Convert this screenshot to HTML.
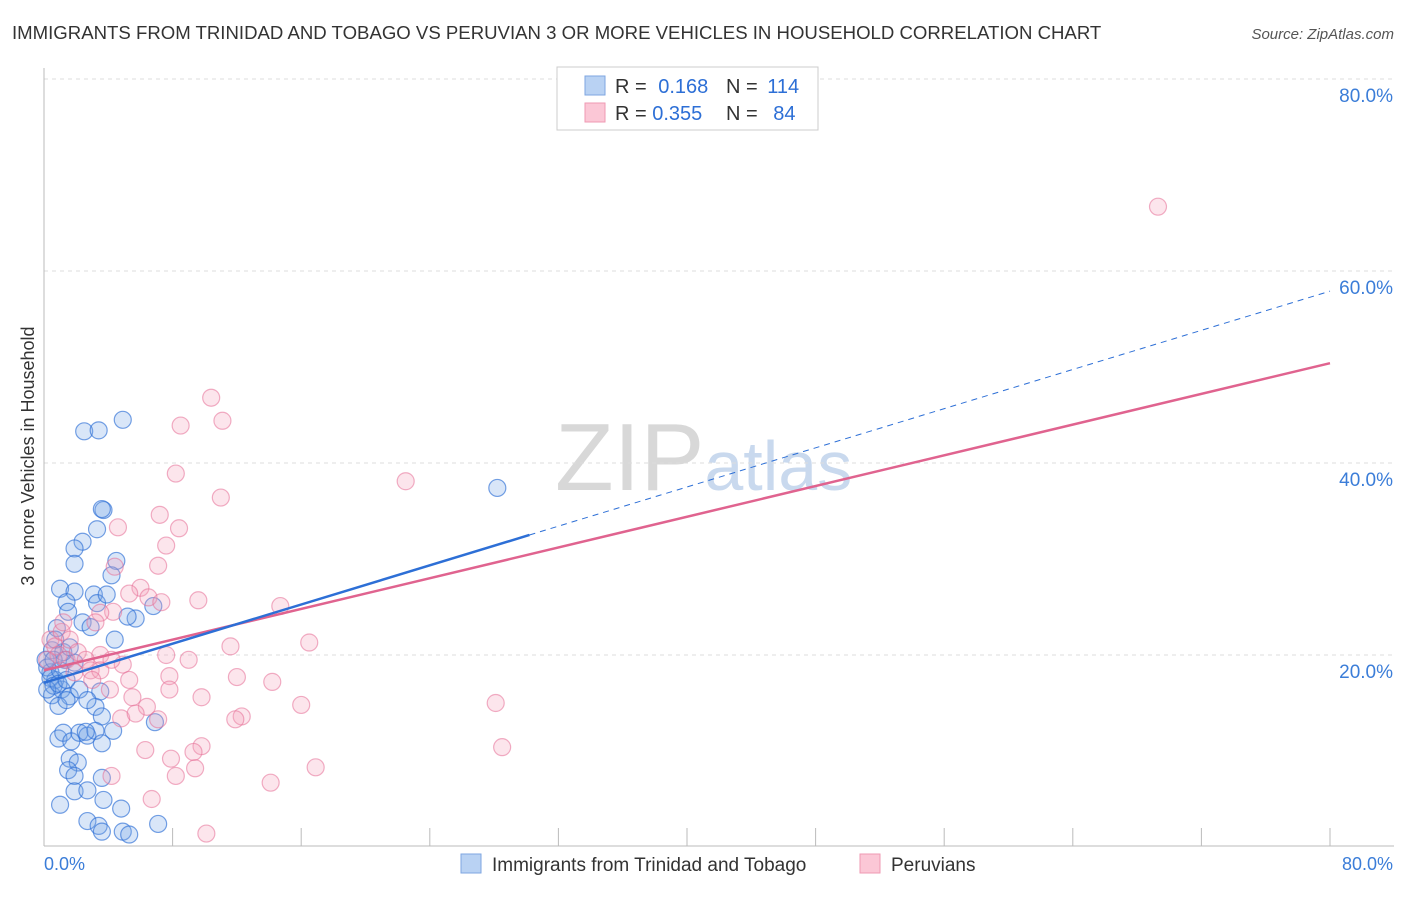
<!DOCTYPE html>
<html><head><meta charset="utf-8"><style>
body{margin:0;background:#fff;font-family:"Liberation Sans",sans-serif;}
svg text{font-family:"Liberation Sans",sans-serif;}
</style></head><body>
<svg id="chart" width="1406" height="892" xmlns="http://www.w3.org/2000/svg">
<text x="12" y="39" font-size="18.6" fill="#333">IMMIGRANTS FROM TRINIDAD AND TOBAGO VS PERUVIAN 3 OR MORE VEHICLES IN HOUSEHOLD CORRELATION CHART</text>
<text x="1394" y="39" font-size="15" fill="#555" font-style="italic" text-anchor="end">Source: ZipAtlas.com</text>
<text x="555" y="490" font-size="96" fill="#d8d8d8" font-family="Liberation Serif">ZIP<tspan fill="#c9d9ee" font-family="Liberation Sans" font-size="70">atlas</tspan></text>
<text transform="translate(34,456) rotate(-90)" font-size="18" fill="#333" text-anchor="middle">3 or more Vehicles in Household</text>
<g id="grid"></g><g id="pts"></g><g id="lines"></g>
<g>
<rect x="557" y="67" width="261" height="63" fill="#fff" stroke="#ccc"/>
<rect x="585" y="76" width="20" height="19" fill="#b9d2f3" stroke="#7ea6e0"/>
<rect x="585" y="103" width="20" height="19" fill="#fbc7d6" stroke="#ef9ab3"/>
<text x="615" y="93" font-size="20" fill="#333">R =  <tspan fill="#2d6fd6" dx="6">0.168</tspan></text>
<text x="726" y="93" font-size="20" fill="#333">N = <tspan fill="#2d6fd6" dx="4">114</tspan></text>
<text x="615" y="120" font-size="20" fill="#333">R = <tspan fill="#2d6fd6">0.355</tspan></text>
<text x="726" y="120" font-size="20" fill="#333">N = <tspan fill="#2d6fd6" dx="10">84</tspan></text>
</g>
<g>
<rect x="461" y="854" width="20" height="19" fill="#b9d2f3" stroke="#7ea6e0"/>
<text x="492" y="871" font-size="19" fill="#333">Immigrants from Trinidad and Tobago</text>
<rect x="860" y="854" width="20" height="19" fill="#fbc7d6" stroke="#ef9ab3"/>
<text x="891" y="871" font-size="19" fill="#333">Peruvians</text>
</g>
<text x="44" y="870" font-size="18" fill="#3b7dd8">0.0%</text>
<text x="1393" y="870" font-size="18" fill="#3b7dd8" text-anchor="end">80.0%</text>
</svg>
<script>
const yTicks=[20,40,60,80];
const yTickLabels=["20.0%","40.0%","60.0%","80.0%"];
const xTicks=[0,8,16,24,32,40,48,56,64,72,80];
const blueX=[4.9,2.5,3.4,28.2,3.7,3.6,3.3,2.4,1.9,1.9,4.5,4.2,1.0,1.9,3.1,1.4,1.5,3.3,3.9,6.8,2.4,2.9,5.7,5.2,4.4,0.8,0.5,1.3,1.9,0.4,0.7,1.1,1.6,2.2,3.5,0.5,0.9,1.4,3.2,3.6,2.7,6.9,0.9,1.2,1.7,2.2,2.7,3.2,2.6,3.6,4.3,1.6,2.1,1.5,1.9,3.6,1.9,2.7,1.0,3.7,4.8,2.7,3.4,3.6,4.9,5.3,7.1,0.1,0.2,0.4,0.6,0.2,1.0,1.2,0.7,1.6,0.6,0.9,1.4];
const blueY=[44.5,43.3,43.4,37.4,35.1,35.2,33.1,31.8,31.1,29.5,29.8,28.3,26.9,26.6,26.3,25.5,24.5,25.4,26.3,25.1,23.4,22.9,23.8,24.0,21.6,22.8,20.5,19.5,19.2,18.2,17.4,16.4,15.7,16.4,16.2,15.8,14.7,15.3,14.6,13.6,15.3,13.0,11.3,11.9,11.0,11.9,11.6,12.1,12.0,10.8,12.1,9.2,8.8,8.0,7.4,7.2,5.8,5.9,4.4,4.9,4.0,2.7,2.2,1.6,1.6,1.3,2.4,19.5,18.7,17.6,16.8,16.4,18.4,20.3,21.6,20.8,19.5,17.0,17.4];
const pinkX=[69.3,10.4,8.5,11.1,22.5,8.2,11.0,7.2,4.6,8.4,7.6,7.1,4.4,6.0,5.3,6.5,7.3,9.6,14.7,4.3,3.5,3.2,11.6,16.5,9.0,7.6,3.5,4.9,12.0,14.2,7.8,5.3,7.8,5.5,9.8,16.0,28.1,6.4,7.1,12.3,11.9,4.8,5.7,28.5,9.8,9.3,6.3,7.9,9.4,16.9,8.2,4.2,14.1,6.7,10.1,0.4,0.7,1.1,1.6,0.9,1.4,2.1,2.6,2.9,1.9,3.5,4.2,0.2,1.2,3.0,4.1];
const pinkY=[66.7,46.8,43.9,44.4,38.1,38.9,36.4,34.6,33.3,33.2,31.4,29.3,29.2,27.0,26.4,26.0,25.5,25.7,25.1,24.5,24.4,23.4,20.9,21.3,19.5,20.0,20.0,19.0,17.7,17.2,17.8,17.4,16.4,15.6,15.6,14.8,15.0,14.6,13.3,13.6,13.3,13.4,13.9,10.4,10.5,9.9,10.1,9.2,8.2,8.3,7.4,7.4,6.7,5.0,1.4,21.6,20.9,22.4,21.6,20.0,19.5,20.3,19.5,18.4,18.2,18.4,19.5,19.5,23.4,17.4,16.4];
const blueTrend=[17.1,57.9], blueSolidEnd=30.2;
const pinkTrend=[18.4,50.4];
const NS="http://www.w3.org/2000/svg";
const sx=v=>44+v/80*1286, sy=v=>847-v/20*192;
function mk(tag,attrs,parent){const e=document.createElementNS(NS,tag);for(const k in attrs)e.setAttribute(k,attrs[k]);parent.appendChild(e);return e;}
const grid=document.getElementById('grid');
yTicks.forEach((t,i)=>{
 const l=mk('line',{x1:44,x2:1394,y1:sy(t),y2:sy(t),stroke:'#ddd','stroke-dasharray':'4,4'},grid);
 
 
 const tx=mk('text',{x:1393,y:sy(t)+23,'font-size':19,fill:'#3b7dd8','text-anchor':'end'},grid);
 tx.textContent=yTickLabels[i];
 
 
});
const ax=mk('line',{x1:44,x2:44,y1:68,y2:846,stroke:'#bbb'},grid);


const bx=mk('line',{x1:44,x2:1394,y1:846,y2:846,stroke:'#bbb'},grid);


xTicks.forEach(t=>{
 const l=mk('line',{x1:sx(t),x2:sx(t),y1:828,y2:846,stroke:'#bbb'},grid);
 
 
});
const pts=document.getElementById('pts');
blueX.forEach((x,i)=>{
 const c=mk('circle',{cx:sx(x),cy:sy(blueY[i]),r:8.5,fill:'rgba(120,165,230,0.28)',stroke:'rgba(45,111,214,0.65)','stroke-width':1.2},pts);
 
 
});
pinkX.forEach((x,i)=>{
 const c=mk('circle',{cx:sx(x),cy:sy(pinkY[i]),r:8.5,fill:'rgba(245,160,185,0.28)',stroke:'rgba(230,110,150,0.55)','stroke-width':1.2},pts);
 
 
});
const lines=document.getElementById('lines');
const bAt=x=>blueTrend[0]+(blueTrend[1]-blueTrend[0])*x/80;
const l1=mk('line',{x1:sx(blueSolidEnd),y1:sy(bAt(blueSolidEnd)),x2:sx(80),y2:sy(bAt(80)),stroke:'#2d6fd6','stroke-width':1,'stroke-dasharray':'6,5'},lines);


const l2=mk('line',{x1:sx(0),y1:sy(pinkTrend[0]),x2:sx(80),y2:sy(pinkTrend[1]),stroke:'#e0638f','stroke-width':2.5},lines);


const l3=mk('line',{x1:sx(0),y1:sy(bAt(0)),x2:sx(blueSolidEnd),y2:sy(bAt(blueSolidEnd)),stroke:'#2d6fd6','stroke-width':2.5},lines);


</script>
</body></html>
